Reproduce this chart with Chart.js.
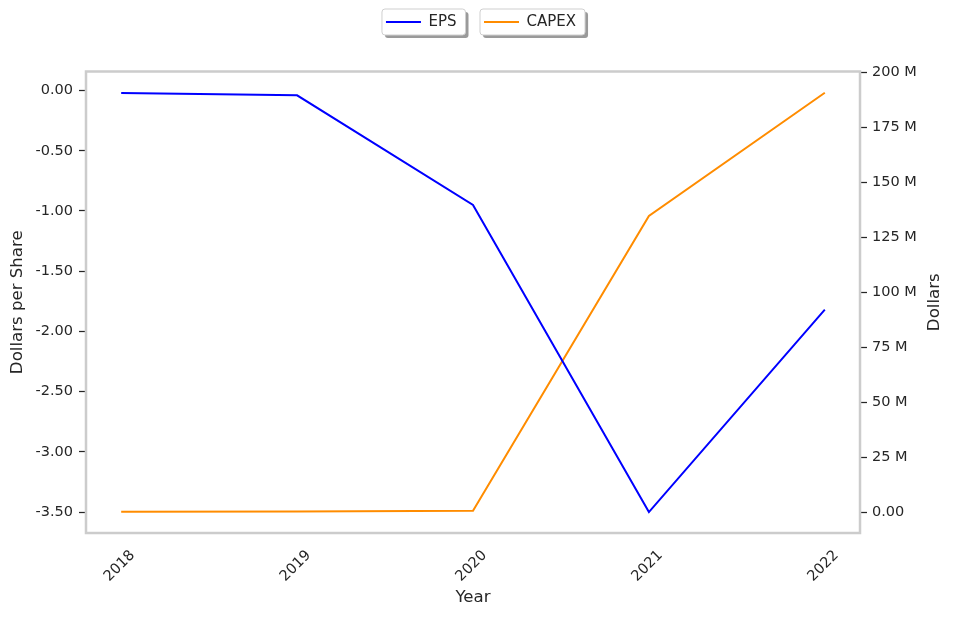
<!DOCTYPE html>
<html>
<head>
<meta charset="utf-8">
<script src="https://cdn.jsdelivr.net/npm/chart.js@4"></script>
<style>
html,body{margin:0;padding:0;background:#fff;}
#wrap{width:954px;height:618px;position:relative;}
</style>
</head>
<body>
<div id="wrap"><canvas id="c" width="954" height="618"></canvas></div>
<script>
const years = [2018, 2019, 2020, 2021, 2022];
const epsValues = [-0.02, -0.04, -0.95, -3.50, -1.82];
// CAPEX in millions of dollars
const capexValues = [0.1, 0.2, 0.6, 134.7, 190.8];
const seriesNames = ['EPS', 'CAPEX'];
const leftTitle = 'Dollars per Share';
const rightTitle = 'Dollars';
const xTitle = 'Year';

const TEXT = '#262626';
const FONT = 'DejaVu Sans';
const TICK_SIZE = 14.5;
const TITLE_SIZE = 16.6;

const spacerPlugin = {
  id: 'spacer',
  beforeInit(chart) {
    const box = {
      position: 'top', weight: 0, fullSize: true, options: {},
      top: 0, left: 0, right: 0, bottom: 0, width: 0, height: 0,
      isHorizontal() { return true; },
      update(maxWidth) { this.width = maxWidth; this.height = 32; },
      draw() {}
    };
    Chart.layouts.addBox(chart, box);
  }
};

const decorPlugin = {
  id: 'decor',
  beforeDraw(chart) {
    const ctx = chart.ctx;
    const lg = chart.legend;
    if (lg && lg.legendHitBoxes) {
      lg.legendHitBoxes.forEach(hb => {
        const cy = hb.top + hb.height / 2;
        const x0 = hb.left - 4, x1 = hb.left + hb.width + 9;
        const y0 = cy - 13, y1 = cy + 13;
        ctx.save();
        ctx.fillStyle = '#9a9a9a';
        roundRect(ctx, x0 + 3, y0 + 3, x1 - x0, y1 - y0, 3); ctx.fill();
        ctx.fillStyle = '#ffffff';
        ctx.strokeStyle = '#cfcfcf';
        ctx.lineWidth = 1;
        roundRect(ctx, x0, y0, x1 - x0, y1 - y0, 3); ctx.fill(); ctx.stroke();
        ctx.restore();
      });
    }
  },
  afterDraw(chart) {
    const ctx = chart.ctx;
    const a = chart.chartArea;
    ctx.save();
    ctx.strokeStyle = '#cccccc';
    ctx.lineWidth = 2.5;
    ctx.strokeRect(a.left, a.top, a.right - a.left, a.bottom - a.top);
    const xs = chart.scales.x;
    ctx.fillStyle = TEXT;
    ctx.font = TICK_SIZE + 'px "' + FONT + '"';
    ctx.textAlign = 'center';
    ctx.textBaseline = 'middle';
    years.forEach(y => {
      const px = xs.getPixelForValue(y);
      ctx.save();
      ctx.translate(px - 1.5, a.bottom + 33);
      ctx.rotate(-Math.PI / 4);
      ctx.fillText(String(y), 0, 0);
      ctx.restore();
    });
    ctx.font = TITLE_SIZE + 'px "' + FONT + '"';
    ctx.save();
    ctx.translate(935, (a.top + a.bottom) / 2);
    ctx.rotate(-Math.PI / 2);
    ctx.fillText(rightTitle, 0, 0);
    ctx.restore();
    ctx.restore();
  }
};

function roundRect(ctx, x, y, w, h, r) {
  ctx.beginPath();
  ctx.moveTo(x + r, y);
  ctx.lineTo(x + w - r, y);
  ctx.arcTo(x + w, y, x + w, y + r, r);
  ctx.lineTo(x + w, y + h - r);
  ctx.arcTo(x + w, y + h, x + w - r, y + h, r);
  ctx.lineTo(x + r, y + h);
  ctx.arcTo(x, y + h, x, y + h - r, r);
  ctx.lineTo(x, y + r);
  ctx.arcTo(x, y, x + r, y, r);
  ctx.closePath();
}

Chart.defaults.font.family = FONT;
Chart.defaults.color = TEXT;

new Chart(document.getElementById('c'), {
  type: 'line',
  data: {
    datasets: [
      {
        label: seriesNames[0],
        data: years.map((y, i) => ({x: y, y: epsValues[i]})),
        borderColor: '#0000ff', backgroundColor: '#0000ff',
        borderWidth: 2, pointRadius: 0, tension: 0, yAxisID: 'y'
      },
      {
        label: seriesNames[1],
        data: years.map((y, i) => ({x: y, y: capexValues[i]})),
        borderColor: '#ff8c00', backgroundColor: '#ff8c00',
        borderWidth: 2, pointRadius: 0, tension: 0, yAxisID: 'y1'
      }
    ]
  },
  options: {
    responsive: false,
    animation: false,
    devicePixelRatio: 1,
    layout: { padding: { top: -13, left: 8, right: 0, bottom: 0 } },
    plugins: {
      legend: {
        position: 'top',
        labels: {
          usePointStyle: true, pointStyle: 'line', pointStyleWidth: 35,
          boxHeight: 14, padding: 27.5,
          font: { size: 15, family: FONT }, color: TEXT
        }
      },
      tooltip: { enabled: false }
    },
    scales: {
      x: {
        type: 'linear', min: 2017.8, max: 2022.2,
        grid: { display: false }, border: { display: false },
        ticks: { display: false, stepSize: 1 },
        title: { display: true, text: xTitle, font: { size: TITLE_SIZE, family: FONT }, color: TEXT, padding: { top: 0, bottom: 10 } },
        afterFit(s) { s.height = 85; }
      },
      y: {
        position: 'left', min: -3.674, max: 0.158,
        grid: { drawOnChartArea: false, drawTicks: true, tickLength: 7, tickColor: TEXT, tickWidth: 1.25 },
        border: { display: false },
        ticks: { stepSize: 0.5, includeBounds: false, padding: 6, font: { size: TICK_SIZE, family: FONT }, color: TEXT,
          callback: v => v.toFixed(2) },
        title: { display: true, text: leftTitle, font: { size: TITLE_SIZE, family: FONT }, color: TEXT, padding: { top: 0, bottom: 0 } },
        afterFit(s) { s.width = 78; }
      },
      y1: {
        position: 'right', min: -9.55, max: 200.45,
        grid: { drawOnChartArea: false, drawTicks: true, tickLength: 7, tickColor: TEXT, tickWidth: 1.25 },
        border: { display: false },
        ticks: { stepSize: 25, includeBounds: false, padding: 5, font: { size: TICK_SIZE, family: FONT }, color: TEXT,
          callback: v => (Math.abs(v) < 1e-9 ? '0.00' : Math.round(v) + ' M') },
        afterFit(s) { s.width = 94; }
      }
    }
  },
  plugins: [spacerPlugin, decorPlugin]
});
</script>
</body>
</html>
